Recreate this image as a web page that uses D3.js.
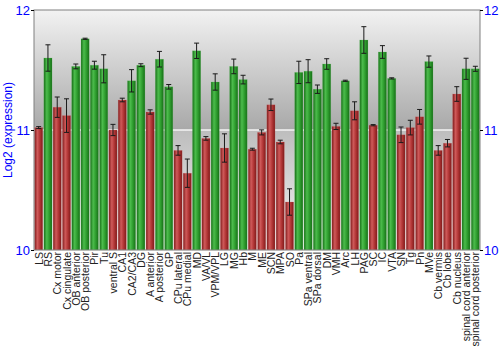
<!DOCTYPE html>
<html>
<head>
<meta charset="utf-8">
<script src="https://cdn.jsdelivr.net/npm/d3@7"></script>
<style>
  html, body { margin: 0; padding: 0; background: #ffffff; }
  svg { display: block; font-family: "Liberation Sans", Arial, sans-serif; }
</style>
</head>
<body>
<svg id="chart" width="500" height="350"></svg>
<script>
// Brain regions along the x axis
const regions = [
  "LS", "RS", "Cx motor", "Cx cingulate", "OB anterior", "OB posterior", "Pir", "Tu",
  "ventral S", "CA1", "CA2/CA3", "DG", "A anterior", "A posterior", "GP", "CPu lateral",
  "CPu medial", "MD", "VA/VL", "VPM/VPL", "LG", "MG", "Hb", "M", "ME", "SCN", "MPA", "SO",
  "Pa", "SPa ventral", "SPa dorsal", "DM", "VMH", "Arc", "LH", "PAG", "SC", "IC", "VTA",
  "SN", "Tg", "Pn", "MVe", "Cb vermis", "Cb lobe", "Cb nucleus",
  "spinal cord anterior", "spinal cord posterior"
];

// Mean log2 expression per region
const expression = [
  11.02, 11.60, 11.19, 11.12, 11.53, 11.76, 11.54, 11.51,
  11.00, 11.25, 11.41, 11.54, 11.15, 11.59, 11.36, 10.83,
  10.64, 11.66, 10.93, 11.40, 10.85, 11.53, 11.42, 10.84, 10.98, 11.21, 10.90, 10.40,
  11.48, 11.49, 11.34, 11.55, 11.03, 11.41, 11.16, 11.75, 11.04, 11.65, 11.43,
  10.96, 11.02, 11.11, 11.57, 10.83, 10.89, 11.30,
  11.51, 11.51
];

// Error (± half range) per region
const errors = [
  0.008, 0.110, 0.085, 0.140, 0.020, 0.005, 0.033, 0.117,
  0.047, 0.015, 0.093, 0.012, 0.018, 0.065, 0.019, 0.040,
  0.118, 0.064, 0.015, 0.068, 0.118, 0.061, 0.036, 0.008, 0.021, 0.048, 0.015, 0.110,
  0.093, 0.096, 0.035, 0.044, 0.026, 0.005, 0.075, 0.111, 0.005, 0.053, 0.005,
  0.065, 0.061, 0.061, 0.047, 0.040, 0.031, 0.061,
  0.088, 0.021
];

// Colour group per region: "g" green, "r" red
const groups = [
  "r", "g", "r", "r", "g", "g", "g", "g",
  "r", "r", "g", "g", "r", "g", "g", "r",
  "r", "g", "r", "g", "r", "g", "g", "r", "r", "r", "r", "r",
  "g", "g", "g", "g", "r", "g", "r", "g", "r", "g", "g",
  "r", "r", "r", "g", "r", "r", "r",
  "g", "g"
];

const yTicks = [10, 11, 12];

const svg = d3.select("#chart");
const margin = { left: 34, right: 20, top: 10, bottom: 100 };
const W = 500, H = 350;
const plotW = W - margin.left - margin.right;
const plotH = H - margin.top - margin.bottom;

const x = d3.scaleBand().domain(regions).range([margin.left, margin.left + plotW])
  .paddingInner(0.12).paddingOuter(0.06);
const y = d3.scaleLinear().domain([10, 12]).range([margin.top + plotH, margin.top]);

const defs = svg.append("defs");

// Background: light at the top, darkening toward the 11 line, then lightening again below
const bg = defs.append("linearGradient").attr("id", "bg").attr("x1", 0).attr("y1", 0).attr("x2", 0).attr("y2", 1);
bg.append("stop").attr("offset", "0%").attr("stop-color", "#f2f2f2");
bg.append("stop").attr("offset", "50%").attr("stop-color", "#a8a8a8");
bg.append("stop").attr("offset", "50.01%").attr("stop-color", "#bdbdbd");
bg.append("stop").attr("offset", "100%").attr("stop-color", "#f4f4f4");

function barGradient(id, edge, mid, light) {
  const g = defs.append("linearGradient").attr("id", id).attr("x1", 0).attr("y1", 0).attr("x2", 1).attr("y2", 0);
  g.append("stop").attr("offset", "0%").attr("stop-color", edge);
  g.append("stop").attr("offset", "35%").attr("stop-color", light);
  g.append("stop").attr("offset", "65%").attr("stop-color", mid);
  g.append("stop").attr("offset", "100%").attr("stop-color", edge);
}
barGradient("gradR", "#7e1a1a", "#b23636", "#cf5a5a");
barGradient("gradG", "#176e17", "#2f9e2f", "#4cbc4c");

svg.append("rect")
  .attr("x", margin.left).attr("y", margin.top)
  .attr("width", plotW).attr("height", plotH)
  .attr("fill", "url(#bg)");

// Reference line at 11
svg.append("line")
  .attr("x1", margin.left).attr("x2", margin.left + plotW)
  .attr("y1", y(11)).attr("y2", y(11))
  .attr("stroke", "#f4f4f4").attr("stroke-width", 1.5);

const data = regions.map((r, i) => ({ r, v: expression[i], e: errors[i], g: groups[i] }));

// Bars
svg.append("g").selectAll("rect").data(data).join("rect")
  .attr("x", d => x(d.r))
  .attr("width", x.bandwidth())
  .attr("y", d => y(d.v))
  .attr("height", d => y(10) - y(d.v))
  .attr("fill", d => d.g === "g" ? "url(#gradG)" : "url(#gradR)")
  .attr("stroke", d => d.g === "g" ? "#5fc25f" : "#d97070")
  .attr("stroke-opacity", 0.35)
  .attr("stroke-width", 0.6);

// Error bars
const eb = svg.append("g").attr("stroke", "#1a1a1a").attr("stroke-width", 1);
data.forEach(d => {
  const cx = x(d.r) + x.bandwidth() / 2;
  const y1 = y(d.v + d.e), y2 = y(d.v - d.e);
  eb.append("line").attr("x1", cx).attr("x2", cx).attr("y1", y1).attr("y2", y2);
  eb.append("line").attr("x1", cx - 2.5).attr("x2", cx + 2.5).attr("y1", y1).attr("y2", y1);
  eb.append("line").attr("x1", cx - 2.5).attr("x2", cx + 2.5).attr("y1", y2).attr("y2", y2);
});

// Frame
svg.append("rect")
  .attr("x", margin.left).attr("y", margin.top)
  .attr("width", plotW).attr("height", plotH)
  .attr("fill", "none").attr("stroke", "#808080").attr("stroke-width", 1);

// Y axes, both sides
const leftAxis = d3.axisLeft(y).tickValues(yTicks).tickFormat(d3.format("d")).tickSize(3).tickPadding(1);
const rightAxis = d3.axisRight(y).tickValues(yTicks).tickFormat(d3.format("d")).tickSize(3).tickPadding(1);

function styleAxis(g) {
  g.select(".domain").remove();
  g.selectAll(".tick line").attr("stroke", "#000");
  g.selectAll(".tick text").attr("fill", "#0000ff")
    .style("font-size", "13px").style("font-family", "Liberation Sans, Arial, sans-serif");
}
svg.append("g").attr("transform", `translate(${margin.left},0)`).call(leftAxis).call(styleAxis);
svg.append("g").attr("transform", `translate(${margin.left + plotW},0)`).call(rightAxis).call(styleAxis);

// Category labels, rotated
svg.append("g").selectAll("text").data(regions).join("text")
  .attr("transform", d => `translate(${x(d) + x.bandwidth() / 2 + 4},${margin.top + plotH + 2}) rotate(-90)`)
  .attr("text-anchor", "end")
  .attr("fill", "#222")
  .style("font-size", "10.5px")
  .text(d => d);

// Y axis title
svg.append("text")
  .attr("transform", `translate(12,${margin.top + plotH / 2}) rotate(-90)`)
  .attr("text-anchor", "middle")
  .attr("fill", "#0000ff")
  .style("font-size", "12px")
  .text("Log2 (expression)");
</script>
</body>
</html>
